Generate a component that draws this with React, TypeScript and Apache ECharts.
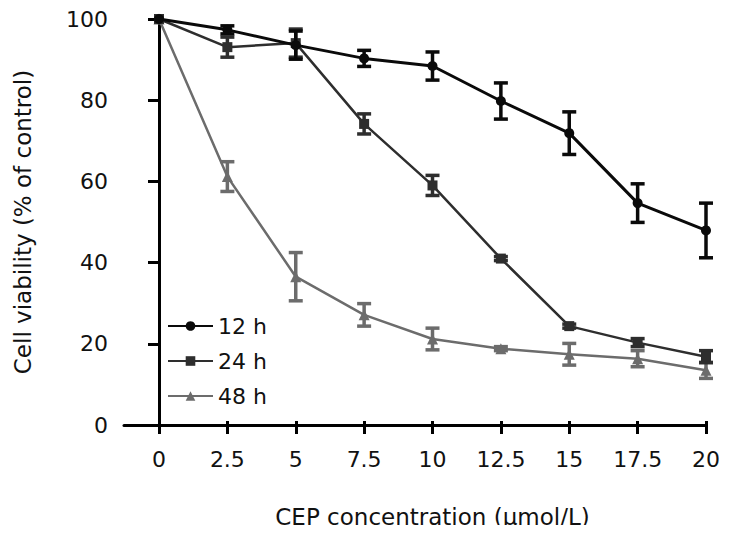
import React, { useEffect, useRef } from "react";
import * as echarts from "echarts";

const concentrations = [0, 2.5, 5, 7.5, 10, 12.5, 15, 17.5, 20];
const xTickLabels = ["0", "2.5", "5", "7.5", "10", "12.5", "15", "17.5", "20"];
const seriesNames = ["12 h", "24 h", "48 h"];
const viability12h = [100, 97.3, 93.5, 90.2, 88.3, 79.6, 71.6, 54.2, 47.4];
const viability24h = [100, 93, 94, 73.9, 58.6, 40.4, 23.6, 19.5, 16];
const viability48h = [100, 60.8, 35.9, 26.4, 20.4, 18, 16.6, 15.5, 12.6];
const error12h = [0, 1, 3.5, 2, 3.5, 4.5, 5.3, 4.8, 6.8];
const error24h = [0, 2.5, 3.5, 2.5, 2.5, 0.5, 0.5, 1, 1.5];
const error48h = [0, 3.7, 6, 2.8, 2.7, 0.5, 2.7, 2, 2];

const FONT = "DejaVu Sans";
const colors = ["#0a0a0a", "#2e2e2e", "#6c6c6c"];
const symbols = ["circle", "rect", "triangle"];
const symbolSizes = [10, 10, 11];
const lineWidths = [3, 2.5, 2.5];

export default function App() {
  const ref = useRef<HTMLDivElement>(null);
  useEffect(() => {
    if (!ref.current) return;
    const chart = echarts.init(ref.current, null, { renderer: "svg" });
    const values = [viability12h, viability24h, viability48h];
    const errors = [error12h, error24h, error48h];

    const lineSeries = values.map((vals, i) => ({
      type: "line",
      name: seriesNames[i],
      xAxisIndex: 1,
      yAxisIndex: 1,
      data: concentrations.map((c, j) => [c, vals[j]]),
      symbol: symbols[i],
      symbolSize: symbolSizes[i],
      showSymbol: true,
      color: colors[i],
      lineStyle: { color: colors[i], width: lineWidths[i] },
      itemStyle: { color: colors[i] },
      z: 3 - i + 2,
    }));

    const errSeries = values.map((vals, i) => ({
      type: "custom",
      name: seriesNames[i] + " err",
      xAxisIndex: 1,
      yAxisIndex: 1,
      data: concentrations.map((c, j) => [c, vals[j] - errors[i][j], vals[j] + errors[i][j]]),
      z: 3 - i + 2,
      renderItem: (params: any, api: any) => {
        const x = api.value(0);
        const lo = api.coord([x, api.value(1)]);
        const hi = api.coord([x, api.value(2)]);
        if (Math.abs(lo[1] - hi[1]) < 1) return { type: "group", children: [] };
        const hw = 7;
        const style = { stroke: colors[i], lineWidth: 3.5 };
        return {
          type: "group",
          children: [
            { type: "line", shape: { x1: lo[0], y1: lo[1], x2: hi[0], y2: hi[1] }, style },
            { type: "line", shape: { x1: lo[0] - hw, y1: lo[1], x2: lo[0] + hw, y2: lo[1] }, style },
            { type: "line", shape: { x1: hi[0] - hw, y1: hi[1], x2: hi[0] + hw, y2: hi[1] }, style },
          ],
        };
      },
    }));

    chart.setOption({
      animation: false,
      backgroundColor: "#ffffff",
      textStyle: { fontFamily: FONT },
      grid: [
        { left: 124, right: 23, top: 19, bottom: 108 },
        { left: 159, right: 23, top: 19, bottom: 108 },
      ],
      legend: {
        data: seriesNames,
        orient: "vertical",
        left: 162,
        top: 310,
        itemWidth: 45,
        itemHeight: 12,
        itemGap: 13,
        textStyle: { fontFamily: FONT, fontSize: 22, color: "#111" },
      },
      xAxis: [
        {
          type: "value",
          gridIndex: 0,
          min: -1.28,
          max: 20,
          axisLine: { show: true, lineStyle: { color: "#000", width: 3 } },
          axisTick: { show: false },
          axisLabel: { show: false },
          splitLine: { show: false },
        },
        {
          type: "value",
          gridIndex: 1,
          min: 0,
          max: 20,
          interval: 2.5,
          axisLine: { show: false },
          axisTick: { show: true, length: 13, lineStyle: { color: "#000", width: 3 } },
          axisLabel: {
            margin: 27,
            fontSize: 22,
            fontFamily: FONT,
            color: "#111",
            formatter: (v: number) => {
              const idx = concentrations.indexOf(v);
              return idx >= 0 ? xTickLabels[idx] : "";
            },
          },
          splitLine: { show: false },
          name: "CEP concentration (μmol/L)",
          nameLocation: "middle",
          nameGap: 84,
          nameTextStyle: { fontSize: 23, fontFamily: FONT, color: "#111" },
        },
      ],
      yAxis: [
        {
          type: "value",
          gridIndex: 0,
          min: 0,
          max: 100,
          interval: 20,
          axisLine: { show: true, lineStyle: { color: "#000", width: 3 } },
          axisTick: { show: true, length: 11, lineStyle: { color: "#000", width: 3 } },
          axisLabel: { margin: 16, fontSize: 22, fontFamily: FONT, color: "#111" },
          splitLine: { show: false },
          name: "Cell viability (% of control)",
          nameLocation: "middle",
          nameGap: 90,
          nameTextStyle: { fontSize: 23, fontFamily: FONT, color: "#111" },
        },
        {
          type: "value",
          gridIndex: 1,
          min: 0,
          max: 100,
          show: false,
        },
      ],
      series: [...errSeries, ...lineSeries],
    });
    return () => chart.dispose();
  }, []);
  return <div ref={ref} style={{ width: 729, height: 533, margin: -8 }} />;
}
